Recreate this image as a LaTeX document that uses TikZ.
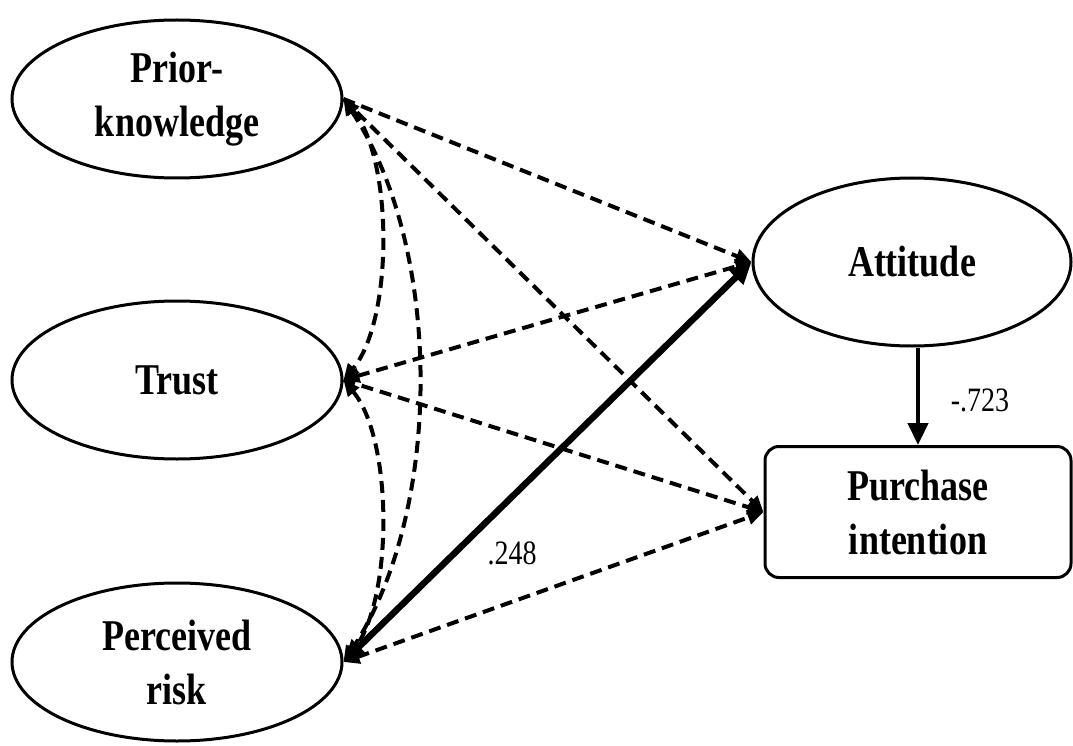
\documentclass[tikz,border=0pt]{standalone}
\usepackage{graphicx}
\usepackage{fontspec}
\setmainfont{Liberation Serif}
\usetikzlibrary{arrows.meta,shapes.geometric}
\newcommand{\vstretch}[1]{\scalebox{1}[1.22]{#1}}
\tikzset{
  latent/.style={ellipse,draw,line width=3pt,minimum width=330pt,minimum height=158pt,inner sep=0pt,
    font=\fontsize{36}{54}\selectfont\bfseries,align=center},
  obsbox/.style={rectangle,rounded corners=14pt,draw,line width=3pt,minimum width=306pt,minimum height=131pt,
    inner sep=0pt,font=\fontsize{36}{54}\selectfont\bfseries,align=center},
  dashline/.style={line width=4pt,dash pattern=on 12pt off 7pt,-{Triangle[length=16pt,width=14pt]}},
  corr/.style={line width=4pt,dash pattern=on 12pt off 7pt,{Triangle[length=16pt,width=14pt]}-{Triangle[length=16pt,width=14pt]}},
  boldpath/.style={line width=6.5pt,{Triangle[length=22pt,width=20pt]}-{Triangle[length=22pt,width=20pt]}},
  solidarrow/.style={line width=4.5pt,-{Triangle[length=22pt,width=20pt]}},
  coef/.style={font=\fontsize{28}{30}\selectfont}
}
\begin{document}
\begin{tikzpicture}[x=1pt,y=-1pt]
\useasboundingbox (0,0) rectangle (1073,746);
\node[latent] (PK) at (177,99) {\vstretch{Prior-}\\\vstretch{knowledge}};
\node[latent] (TR) at (177,380) {\vstretch{Trust}};
\node[latent] (PR) at (177,662) {\vstretch{Perceived}\\\vstretch{risk}};
\node[latent,minimum width=318pt,minimum height=168pt] (AT) at (912,262) {\vstretch{Attitude}};
\node[obsbox] (PI) at (918,512) {\vstretch{Purchase}\\\vstretch{intention}};

% correlations on the left
\draw[corr] (PK.east) .. controls +(50,60) and +(50,-60) .. (TR.east);
\draw[corr] (TR.east) .. controls +(50,60) and +(50,-60) .. (PR.east);
\draw[corr] (PK.east) .. controls +(100,150) and +(100,-150) .. (PR.east);

% paths
\draw[dashline] (PK.east) -- (AT.west);
\draw[dashline] (PK.east) -- (PI.west);
\draw[corr] (TR.east) -- (AT.west);
\draw[dashline] (TR.east) -- (PI.west);
\draw[corr] (PR.east) -- (PI.west);
\draw[boldpath] (PR.east) -- (AT.west);
\draw[solidarrow] (PI.north |- AT.south) -- (PI.north);

\node[coef] (c1) at (980,400) {\vstretch{-.723}};
\node[coef] (c2) at (512,553) {\vstretch{.248}};
\end{tikzpicture}
\end{document}
